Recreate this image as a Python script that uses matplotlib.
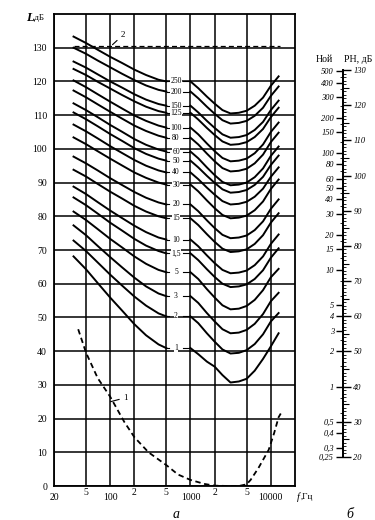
import numpy as np
import matplotlib.pyplot as plt

plt.rcParams['font.family'] = ['Liberation Serif', 'DejaVu Serif']

# noy contour labels, top to bottom
curve_labels = ['250', '200', '150', '125', '100', '80', '60', '50', '40', '30',
                '20', '15', '10', '1,5', '5', '3', '2', '1']

# low-frequency branch of every contour, dB
left_freq = [35, 50, 70, 100, 140, 200, 280, 400, 500]
left_db = [
    [133.3, 131.4, 129.4, 127.3, 125.5, 123.5, 121.9, 120.5, 120.0],
    [130.0, 128.2, 126.2, 124.2, 122.3, 120.4, 118.8, 117.5, 117.0],
    [125.9, 124.1, 122.1, 120.0, 118.2, 116.2, 114.6, 113.3, 112.8],
    [123.7, 121.9, 119.9, 117.9, 116.0, 114.1, 112.5, 111.2, 110.7],
    [120.3, 118.3, 116.2, 114.0, 112.0, 109.9, 108.3, 106.9, 106.3],
    [117.3, 115.3, 113.2, 111.0, 109.0, 106.9, 105.3, 103.9, 103.3],
    [113.5, 111.5, 109.4, 107.1, 105.1, 102.9, 101.2, 99.8, 99.2],
    [110.8, 108.8, 106.7, 104.4, 102.4, 100.2, 98.5, 97.1, 96.5],
    [107.2, 105.2, 103.1, 100.8, 98.8, 96.7, 95.0, 93.6, 93.0],
    [103.4, 101.4, 99.3, 97.1, 95.1, 93.0, 91.4, 90.0, 89.4],
    [97.7, 95.7, 93.6, 91.3, 89.3, 87.2, 85.5, 84.1, 83.5],
    [93.8, 91.8, 89.6, 87.3, 85.3, 83.1, 81.4, 80.0, 79.4],
    [88.8, 86.6, 84.2, 81.7, 79.5, 77.2, 75.3, 73.7, 73.1],
    [85.6, 83.3, 80.8, 78.1, 75.8, 73.3, 71.3, 69.7, 69.0],
    [81.4, 78.9, 76.2, 73.3, 70.8, 68.1, 65.9, 64.1, 63.4],
    [77.3, 74.4, 71.2, 67.9, 64.9, 61.8, 59.2, 57.1, 56.3],
    [72.8, 69.7, 66.3, 62.7, 59.5, 56.2, 53.5, 51.2, 50.3],
    [68.1, 64.3, 60.2, 55.9, 52.1, 48.0, 44.7, 42.0, 40.9],
]

# high-frequency branch of every contour, dB
right_freq = [1000, 1250, 1600, 2000, 2500, 3150, 4000, 5000, 6300, 8000, 10000, 12500]
right_db = [
    [120.0, 118.0, 115.5, 113.4, 111.5, 110.5, 110.7, 111.3, 112.8, 115.2, 118.7, 121.5],
    [117.0, 115.0, 112.5, 110.4, 108.5, 107.5, 107.7, 108.3, 109.8, 112.2, 115.7, 118.5],
    [112.8, 110.8, 108.3, 106.2, 104.3, 103.3, 103.5, 104.1, 105.6, 108.0, 111.5, 114.3],
    [110.7, 108.7, 106.2, 104.1, 102.2, 101.2, 101.4, 102.0, 103.5, 105.9, 109.4, 112.2],
    [106.3, 104.3, 101.6, 99.3, 97.3, 96.3, 96.5, 97.1, 98.7, 101.3, 105.0, 107.8],
    [103.3, 101.3, 98.6, 96.3, 94.3, 93.3, 93.5, 94.1, 95.7, 98.3, 102.0, 104.8],
    [99.2, 97.2, 94.5, 92.2, 90.2, 89.2, 89.4, 90.0, 91.6, 94.2, 97.9, 100.7],
    [96.5, 94.5, 92.0, 89.9, 88.0, 87.0, 87.2, 87.8, 89.3, 91.7, 95.2, 98.0],
    [93.0, 91.0, 88.5, 86.4, 84.5, 83.5, 83.7, 84.3, 85.8, 88.2, 91.7, 94.5],
    [89.4, 87.4, 84.7, 82.4, 80.4, 79.4, 79.6, 80.2, 81.8, 84.4, 88.1, 90.9],
    [83.5, 81.5, 78.8, 76.5, 74.5, 73.5, 73.7, 74.3, 75.9, 78.5, 82.2, 85.0],
    [79.4, 77.4, 74.7, 72.4, 70.4, 69.4, 69.6, 70.2, 71.8, 74.4, 78.1, 80.9],
    [73.1, 71.1, 68.4, 66.1, 64.1, 63.1, 63.3, 63.9, 65.5, 68.1, 71.8, 74.6],
    [69.0, 67.0, 64.3, 62.0, 60.0, 59.0, 59.2, 59.8, 61.4, 64.0, 67.7, 70.5],
    [63.4, 61.4, 58.4, 55.9, 53.6, 52.4, 52.6, 53.4, 55.2, 58.1, 61.9, 64.4],
    [56.3, 54.3, 51.3, 48.8, 46.5, 45.3, 45.5, 46.3, 48.1, 51.0, 54.8, 57.3],
    [50.3, 48.3, 45.3, 42.8, 40.5, 39.3, 39.5, 40.3, 42.1, 45.0, 48.8, 51.3],
    [40.9, 39.1, 36.9, 35.4, 32.9, 30.7, 31.0, 31.8, 34.2, 37.7, 41.4, 45.3],
]

# curve 1: hearing threshold
threshold_freq = [40, 50, 70, 100, 150, 200, 300, 500, 700, 1000, 1500, 2000,
                  3000, 4000, 5000, 5600, 7000, 9400, 11000, 12500, 13300]
threshold_db = [46.5, 39.6, 32.0, 26.5, 19.0, 14.5, 10.0, 6.2, 3.4, 1.8, 0.6, 0.1,
                0.0, 0.0, 0.5, 1.8, 5.3, 10.7, 15.7, 20.4, 21.5]

# curve 2: pain threshold
pain_freq = [35, 13000]
pain_db = [130.6, 130.6]

# nomogram scale: PN dB (right) and noy (left)
pn_major = [20, 30, 40, 50, 60, 70, 80, 90, 100, 110, 120, 130]
pn_mid = [25, 35, 45, 55, 65, 75, 85, 95, 105, 115, 125]
noy_ticks = [500, 400, 300, 200, 150, 100, 80, 60, 50, 40, 30, 20, 15, 10,
             5, 4, 3, 2, 1, 0.5, 0.4, 0.3, 0.25]
noy_tick_labels = ['500', '400', '300', '200', '150', '100', '80', '60', '50', '40',
                   '30', '20', '15', '10', '5', '4', '3', '2', '1',
                   '0,5', '0,4', '0,3', '0,25']
noy_minor = [450, 350, 250, 175, 125, 90, 70, 45, 35, 25, 17.5, 12.5,
             8, 6, 2.5, 1.5, 0.8, 0.6]

W, H = 375, 520


def fx(px):
    return px / W


def fy(py):
    return 1 - py / H


fig = plt.figure(figsize=(W / 100, H / 100), dpi=100)
ax = fig.add_axes([fx(54), fy(486), 241 / W, 472 / H])
ax.set_xscale('log')
ax.set_xlim(20, 20000)
ax.set_ylim(0, 140)

ax.set_xticks([20, 100, 1000, 10000], labels=['20', '100', '1000', '10000'])
ax.set_xticks([50, 200, 500, 2000, 5000], labels=['5', '2', '5', '2', '5'], minor=True)
ax.set_yticks(range(0, 131, 10))
ax.tick_params(axis='x', which='major', length=0, pad=5, labelsize=7)
ax.tick_params(axis='x', which='minor', length=0, pad=1.5, labelsize=7)
ax.tick_params(axis='y', length=0, pad=5, labelsize=7)
ax.grid(True, which='both', color='black', lw=1.1)
ax.set_axisbelow(True)
for s in ax.spines.values():
    s.set_linewidth(1.3)

for lab, ld, rd in zip(curve_labels, left_db, right_db):
    ax.plot(left_freq, ld, color='black', lw=1.4, zorder=3, solid_joinstyle='round')
    ax.plot(right_freq, rd, color='black', lw=1.4, zorder=3, solid_joinstyle='round')
    lvl = rd[0]
    ax.plot([505, 545], [lvl, lvl], color='black', lw=0.8, zorder=3)
    ax.plot([810, 960], [lvl, lvl], color='black', lw=0.8, zorder=3)
    ax.text(660, lvl, lab, fontsize=5.5, ha='center', va='center', zorder=4,
            bbox=dict(facecolor='white', edgecolor='none', pad=0.3))

ax.plot(threshold_freq, threshold_db, color='black', lw=1.3, ls=(0, (3, 2)), zorder=3)
ax.plot(pain_freq, pain_db, color='black', lw=0.9, ls=(0, (4, 2.5)), zorder=3)

ax.annotate('2', xy=(107, 130.9), xytext=(136, 133.8), fontsize=6.5,
            ha='left', va='center',
            arrowprops=dict(arrowstyle='-', lw=0.8, color='black', shrinkA=1, shrinkB=0))
ax.annotate('1', xy=(101, 25.0), xytext=(146, 26.2), fontsize=6.5,
            ha='left', va='center',
            arrowprops=dict(arrowstyle='-', lw=0.8, color='black', shrinkA=1, shrinkB=0))

fig.text(fx(26), fy(18), 'L', fontsize=9, fontweight='bold', fontstyle='italic',
         ha='left', va='center')
fig.text(fx(33), fy(18), ',дБ', fontsize=6.5, ha='left', va='center')
fig.text(fx(297), fy(497), 'f', fontsize=7.5, fontstyle='italic', ha='left', va='center')
fig.text(fx(301), fy(497), ',Гц', fontsize=6.5, ha='left', va='center')
fig.text(fx(176), fy(515), 'а', fontsize=10, fontstyle='italic', ha='center', va='center')
fig.text(fx(350), fy(515), 'б', fontsize=10, fontstyle='italic', ha='center', va='center')

# nomogram
nom = fig.add_axes([fx(343), fy(457), 0.0001, 387 / H])
nom.set_ylim(20, 130)
nom.set_xticks([])
nom.patch.set_visible(False)
for s in ['top', 'bottom', 'left']:
    nom.spines[s].set_visible(False)
nom.spines['right'].set_linewidth(1.3)
nom.yaxis.set_ticks_position('right')
nom.set_yticks(pn_major, labels=[str(v) for v in pn_major])
nom.set_yticks(range(20, 131), minor=True)
nom.tick_params(axis='y', which='major', length=6, width=1.0, pad=1.5,
                labelsize=6, labelright=True, labelleft=False)
nom.tick_params(axis='y', which='minor', length=2.5, width=0.6)
for t in nom.get_yticklabels():
    t.set_fontstyle('italic')

mid = nom.secondary_yaxis('right')
mid.set_yticks(pn_mid, labels=[])
mid.tick_params(length=4, width=0.8)
mid.spines['right'].set_visible(False)


def pn_to_noy(pn):
    return 2.0 ** ((np.asarray(pn, dtype=float) - 40) / 10)


def noy_to_pn(n):
    return 40 + 10 * np.log2(np.maximum(np.asarray(n, dtype=float), 1e-6))


sec = nom.secondary_yaxis('left', functions=(pn_to_noy, noy_to_pn))
sec.set_yticks(noy_ticks, labels=noy_tick_labels)
sec.set_yticks(noy_minor, minor=True)
sec.tick_params(axis='y', which='major', length=5, width=1.0, pad=1.5, labelsize=6)
sec.tick_params(axis='y', which='minor', length=2.5, width=0.6)
sec.spines['left'].set_linewidth(1.3)
for t in sec.get_yticklabels():
    t.set_fontstyle('italic')

fig.text(fx(324), fy(59), 'Ной', fontsize=7, ha='center', va='center')
fig.text(fx(358), fy(59), 'РН, дБ', fontsize=7, ha='center', va='center')

fig.savefig('out.png', dpi=100)
